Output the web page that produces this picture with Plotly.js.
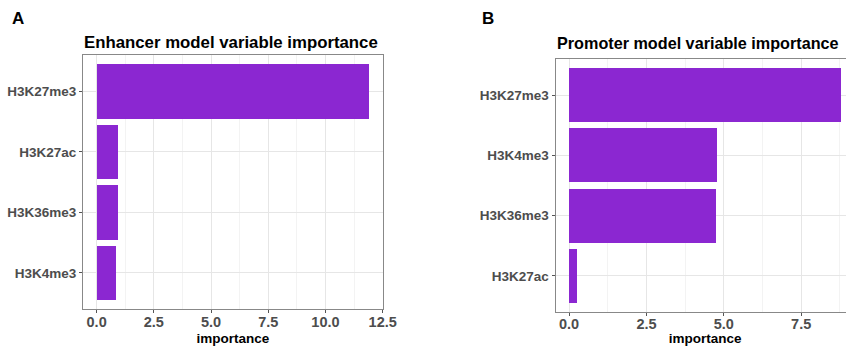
<!DOCTYPE html>
<html>
<head>
<meta charset="utf-8">
<script src="https://cdn.plot.ly/plotly-3.0.1.min.js"></script>
<style>
html,body{margin:0;padding:0;overflow:hidden;background:#fff;width:846px;height:346px;}
#chart{width:870px;height:346px;}
</style>
</head>
<body>
<div id="chart"></div>
<script>
// Panel A: enhancer model (bottom -> top)
const enhancerMarks = ['H3K4me3', 'H3K36me3', 'H3K27ac', 'H3K27me3'];
const enhancerImportance = [0.86, 0.92, 0.92, 11.9];
// Panel B: promoter model (bottom -> top)
const promoterMarks = ['H3K27ac', 'H3K36me3', 'H3K4me3', 'H3K27me3'];
const promoterImportance = [0.25, 4.75, 4.77, 8.8];
const xTickValsA = [0, 2.5, 5, 7.5, 10, 12.5];
const xTickTextA = ['0.0', '2.5', '5.0', '7.5', '10.0', '12.5'];
const xTickValsB = [0, 2.5, 5, 7.5];
const xTickTextB = ['0.0', '2.5', '5.0', '7.5'];

const W = 870, H = 346;
const fx = p => p / W;
const fy = p => 1 - p / H;
const barColor = '#8B27D1';
const FONT = 'Liberation Sans, Arial, Helvetica, sans-serif';

const traces = [
  {type: 'bar', orientation: 'h', x: enhancerImportance, y: enhancerMarks,
   marker: {color: barColor, line: {width: 0}}, width: 0.9, xaxis: 'x', yaxis: 'y', hoverinfo: 'x+y'},
  {type: 'bar', orientation: 'h', x: promoterImportance, y: promoterMarks,
   marker: {color: barColor, line: {width: 0}}, width: 0.9, xaxis: 'x2', yaxis: 'y2', hoverinfo: 'x+y'}
];

function xaxis(domain, range, vals, text, anchor) {
  return {
    domain: domain, range: range, anchor: anchor,
    tickvals: vals, ticktext: text,
    ticks: 'outside', ticklen: 3, tickwidth: 1, tickcolor: '#555',
    ticklabelstandoff: -4,
    showline: true, linecolor: '#888', linewidth: 1, mirror: true,
    showgrid: true, gridcolor: '#E6E6E6', gridwidth: 1,
    minor: {showgrid: true, dtick: 1.25, tick0: 1.25, gridcolor: '#F0F0F0', gridwidth: 0.8},
    zeroline: false,
    tickfont: {family: FONT, size: 14.5, color: '#4D4D4D', weight: 'bold'},
    title: {text: 'importance', font: {family: FONT, size: 13.5, color: '#000', weight: 'bold'}, standoff: 4},
    automargin: false, fixedrange: true
  };
}
function yaxis(domain, cats, anchor) {
  return {
    domain: domain, anchor: anchor, type: 'category',
    categoryorder: 'array', categoryarray: cats, range: [-0.6, 3.6],
    ticks: 'outside', ticklen: 3, tickwidth: 1, tickcolor: '#555',
    showline: true, linecolor: '#888', linewidth: 1, mirror: true,
    showgrid: true, gridcolor: '#E6E6E6', gridwidth: 1,
    zeroline: false,
    tickfont: {family: FONT, size: 13.5, color: '#4D4D4D', weight: 'bold'},
    automargin: false, fixedrange: true
  };
}

const layout = {
  width: W, height: H,
  margin: {l: 0, r: 0, t: 0, b: 0},
  paper_bgcolor: '#fff', plot_bgcolor: '#fff',
  showlegend: false, bargap: 0,
  xaxis: xaxis([fx(83), fx(382.7)], [-0.595, 12.5], xTickValsA, xTickTextA, 'y'),
  yaxis: yaxis([fy(309.3), fy(55)], enhancerMarks, 'x'),
  xaxis2: xaxis([fx(555.5), fx(855)], [-0.44, 9.24], xTickValsB, xTickTextB, 'y2'),
  yaxis2: yaxis([fy(312), fy(59)], promoterMarks, 'x2'),
  annotations: [
    {text: 'A', x: fx(10), y: fy(18), xref: 'paper', yref: 'paper', xanchor: 'left', yanchor: 'middle',
     showarrow: false, font: {family: FONT, size: 17, color: '#000', weight: 'bold'}},
    {text: 'B', x: fx(480), y: fy(18), xref: 'paper', yref: 'paper', xanchor: 'left', yanchor: 'middle',
     showarrow: false, font: {family: FONT, size: 17, color: '#000', weight: 'bold'}},
    {text: 'Enhancer model variable importance', x: fx(82), y: fy(42), xref: 'paper', yref: 'paper',
     xanchor: 'left', yanchor: 'middle', showarrow: false,
     font: {family: FONT, size: 16.8, color: '#000', weight: 'bold'}},
    {text: 'Promoter model variable importance', x: fx(555), y: fy(43.5), xref: 'paper', yref: 'paper',
     xanchor: 'left', yanchor: 'middle', showarrow: false,
     font: {family: FONT, size: 16.2, color: '#000', weight: 'bold'}}
  ]
};

Plotly.newPlot('chart', traces, layout, {displayModeBar: false, staticPlot: true});
</script>
</body>
</html>
